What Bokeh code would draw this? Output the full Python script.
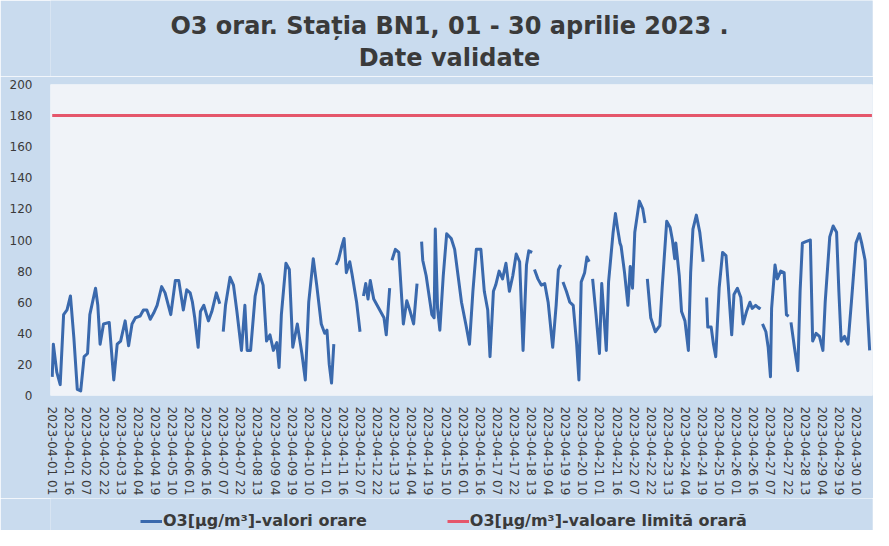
from bokeh.plotting import figure
from bokeh.layouts import column
from bokeh.models import Legend, LegendItem, FixedTicker, Range1d, Label
from bokeh.embed import file_html
from bokeh.resources import INLINE

NaN = float("nan")

# hour offsets from 2023-04-01 01:00 and hourly O3 values (µg/m³), NaN = missing data
hours = [
    0, 1, 4, 7, 10, 13, 16, 19, 22, 25, 28, 31, 33, 38, 40, 42, 45, 50, 54, 57,
    60, 64, 67, 70, 73, 77, 80, 83, 86, 89, 92, 96, 99, 104, 108, 111, 115, 118,
    121, 123, 125, 128, 130, 133, 137, 140, 144, 147, 148, 150, 152, 156, 159, 162,
    166, 169, 171, 174, 178, 182, 185, 188, 191, 194, 197, 199, 201, 205, 208, 211,
    215, 219, 222, 225, 229, 232, 236, 239, 241, 243, 245, 247, 248,
    249, 251, 254, 256, 258, 261, 263, 267, 270, 271, 273, 275, 277, 279, 282, 285,
    288, 291, 293, 296, 297, 298, 301, 304, 306, 308, 311, 314, 317, 320, 322, 324,
    325, 328, 333, 335, 336, 338, 340, 343, 346, 350, 353, 356, 359, 363, 366,
    369, 372, 376, 379, 382, 384, 387, 389, 392, 395, 398, 401, 404, 407, 410, 413,
    416, 418, 421, 422, 423, 426, 429, 432, 435, 439, 442, 444, 446, 447, 448, 451,
    454, 457, 460, 462, 464, 467, 469, 471, 472, 474, 477, 480, 482, 485, 486, 488,
    492, 494, 496, 498, 499, 502, 505, 507, 509, 511, 515, 518, 520, 521, 522, 525,
    529, 533, 535, 539, 542, 544, 546, 547, 550, 552, 555, 558, 560, 562, 565, 568,
    571, 572, 574, 575, 578, 580, 582, 585, 588, 591, 593, 596, 598, 601, 604, 606,
    609, 612, 614, 617, 620, 621, 622, 623, 626, 628, 630, 631, 634, 636, 639, 642,
    644, 646, 647, 648, 651, 654, 656, 658, 661, 665, 666, 667, 670, 673, 676, 678,
    682, 685, 688, 690, 692, 695, 698, 701, 705, 708, 710, 713, 715, 717,
]
o3_values = [
    12, 33, 15, 7, 52, 55, 64, 37, 4, 3, 25, 27, 52, 69, 58, 33, 46, 47, 10, 33,
    35, 48, 32, 46, 50, 51, 55, 55, 49, 53, 58, 70, 66, 52, 74, 74, 55, 68,
    66, 60, 50, 31, 54, 58, 48, 54, 66, 59, NaN, 41, 58, 76, 71, 54,
    29, 58, 29, 29, 64, 78, 71, 35, 39, 29, 34, 18, 52, 85, 81, 31,
    46, 27, 10, 60, 88, 71, 46, 40, 42, 20, 8, 33, NaN,
    84, 87, 96, 101, 79, 86, 78, 60, 41, NaN, 64, 72, 62, 74, 62, 58,
    54, 50, 39, 69, NaN, 87, 94, 92, 69, 46, 61, 54, 46, 72, NaN, 99,
    87, 77, 52, 50, 107, 56, 42, 77, 104, 101, 94, 77, 60, 45, 33,
    67, 94, 94, 67, 55, 25, 67, 71, 80, 75, 85, 67, 77, 91, 86, 29,
    84, 93, 92, NaN, 81, 75, 71, 72, 60, 31, 58, 81, 84, NaN, 73, 67,
    60, 58, 33, 10, 73, 79, 89, 86, NaN, 75, 52, 27, 72, 40, 29, 73,
    105, 117, 107, 98, 96, 79, 58, 83, 69, 105, 125, 120, 111, NaN, 75, 50,
    41, 45, 69, 112, 108, 100, 88, 98, 77, 54, 48, 29, 79, 107, 116, 105,
    86, NaN, 63, 44, 44, 33, 25, 69, 92, 90, 71, 39, 65, 69, 63, 46,
    54, 60, 56, 58, 56, 57, NaN, 46, 41, 31, 12, 56, 84, 75, 80, 79,
    52, 51, NaN, 47, 31, 16, 67, 98, 99, 100, 67, 35, 40, 38, 29, 60,
    102, 109, 105, 67, 35, 38, 33, 60, 98, 104, 98, 87, 56, 29,
]

all_hours = list(range(720))
limit_value = 180
limit_values = [limit_value] * len(all_hours)

tick_hours = list(range(0, 720, 15))
tick_labels = [
    "2023-04-01 01", "2023-04-01 16", "2023-04-02 07", "2023-04-02 22",
    "2023-04-03 13", "2023-04-04 04", "2023-04-04 19", "2023-04-05 10",
    "2023-04-06 01", "2023-04-06 16", "2023-04-07 07", "2023-04-07 22",
    "2023-04-08 13", "2023-04-09 04", "2023-04-09 19", "2023-04-10 10",
    "2023-04-11 01", "2023-04-11 16", "2023-04-12 07", "2023-04-12 22",
    "2023-04-13 13", "2023-04-14 04", "2023-04-14 19", "2023-04-15 10",
    "2023-04-16 01", "2023-04-16 16", "2023-04-17 07", "2023-04-17 22",
    "2023-04-18 13", "2023-04-19 04", "2023-04-19 19", "2023-04-20 10",
    "2023-04-21 01", "2023-04-21 16", "2023-04-22 07", "2023-04-22 22",
    "2023-04-23 13", "2023-04-24 04", "2023-04-24 19", "2023-04-25 10",
    "2023-04-26 01", "2023-04-26 16", "2023-04-27 07", "2023-04-27 22",
    "2023-04-28 13", "2023-04-29 04", "2023-04-29 19", "2023-04-30 10",
]
y_ticks = list(range(0, 201, 20))

title_line1 = "O3 orar. Stația BN1, 01 - 30 aprilie 2023 ."
title_line2 = "Date validate"
series_label = "O3[µg/m³]-valori orare"
limit_label = "O3[µg/m³]-valoare limită orară"

FONT = "DejaVu Sans"
TEXT = "#3a3a3a"
OUTER = "#c9dbee"
INNER = "#f0f3f8"
BLUE = "#3a69ad"
RED = "#e5566b"
W = 873
LEFT, RIGHT = 50, 1

# ---- title strip ----
tf = figure(
    width=W, height=76,
    x_range=Range1d(0, W - LEFT - RIGHT), y_range=Range1d(0, 76),
    x_axis_location=None, y_axis_location=None,
    output_backend="svg", toolbar_location=None,
    min_border_left=LEFT, min_border_right=RIGHT, min_border_top=0, min_border_bottom=0,
    background_fill_color=OUTER, border_fill_color=OUTER, outline_line_color=None,
)
tf.grid.visible = False
for txt, ypos in ((title_line1, 51), (title_line2, 19)):
    tf.add_layout(Label(x=399, y=ypos, text=txt, text_align="center",
                        text_baseline="middle", text_font=FONT, text_font_size="24px",
                        text_font_style="bold", text_color=TEXT))

# ---- main chart ----
p = figure(
    width=W, height=422,
    x_range=Range1d(-1.5, 719.5), y_range=Range1d(0, 200),
    output_backend="svg", toolbar_location=None,
    min_border_left=LEFT, min_border_right=RIGHT, min_border_top=8, min_border_bottom=96,
    background_fill_color=INNER, border_fill_color=OUTER,
    outline_line_color=None,
)

p.line(hours, o3_values, line_color=BLUE, line_width=3, line_join="round")
p.line(all_hours, limit_values, line_color=RED, line_width=3)

p.xgrid.visible = False
p.ygrid.visible = False

xa = p.xaxis[0]
xa.ticker = FixedTicker(ticks=tick_hours)
xa.major_label_overrides = {h: lab for h, lab in zip(tick_hours, tick_labels)}
xa.major_label_orientation = "vertical"
xa.major_label_text_font = FONT
xa.major_label_text_font_size = "12px"
xa.major_label_text_color = TEXT
xa.major_label_standoff = 5
xa.axis_line_color = None
xa.major_tick_line_color = None
xa.minor_tick_line_color = None

ya = p.yaxis[0]
ya.ticker = FixedTicker(ticks=y_ticks)
ya.major_label_text_font = FONT
ya.major_label_text_font_size = "12px"
ya.major_label_text_color = TEXT
ya.major_label_standoff = 12
ya.axis_line_color = None
ya.major_tick_line_color = None
ya.minor_tick_line_color = None

# ---- legend strip (single-point renderers only carry the legend styling) ----
pl = figure(
    width=W, height=32,
    x_range=Range1d(1000, 1001), y_range=Range1d(1000, 1001),
    x_axis_location=None, y_axis_location=None,
    output_backend="svg", toolbar_location=None,
    min_border_left=LEFT, min_border_right=RIGHT, min_border_top=0, min_border_bottom=0,
    background_fill_color=OUTER, border_fill_color=OUTER,
    outline_line_color=None,
)
pl.grid.visible = False
r_o3 = pl.line(x=hours[:1], y=o3_values[:1], line_color=BLUE, line_width=3)
r_lim = pl.line(x=all_hours[:1], y=limit_values[:1], line_color=RED, line_width=3)

legend = Legend(
    items=[
        LegendItem(label=series_label, renderers=[r_o3]),
        LegendItem(label=limit_label, renderers=[r_lim]),
    ],
    orientation="horizontal", location=(90, 0),
    spacing=80, glyph_width=22, glyph_height=18, label_height=18, label_standoff=1,
    label_text_font=FONT, label_text_font_size="16px", label_text_font_style="bold",
    label_text_color=TEXT,
    background_fill_alpha=0, border_line_color=None, margin=0, padding=0,
)
pl.add_layout(legend)

layout = column(tf, p, pl, spacing=0)

open("out.html", "w").write(file_html(layout, INLINE))
